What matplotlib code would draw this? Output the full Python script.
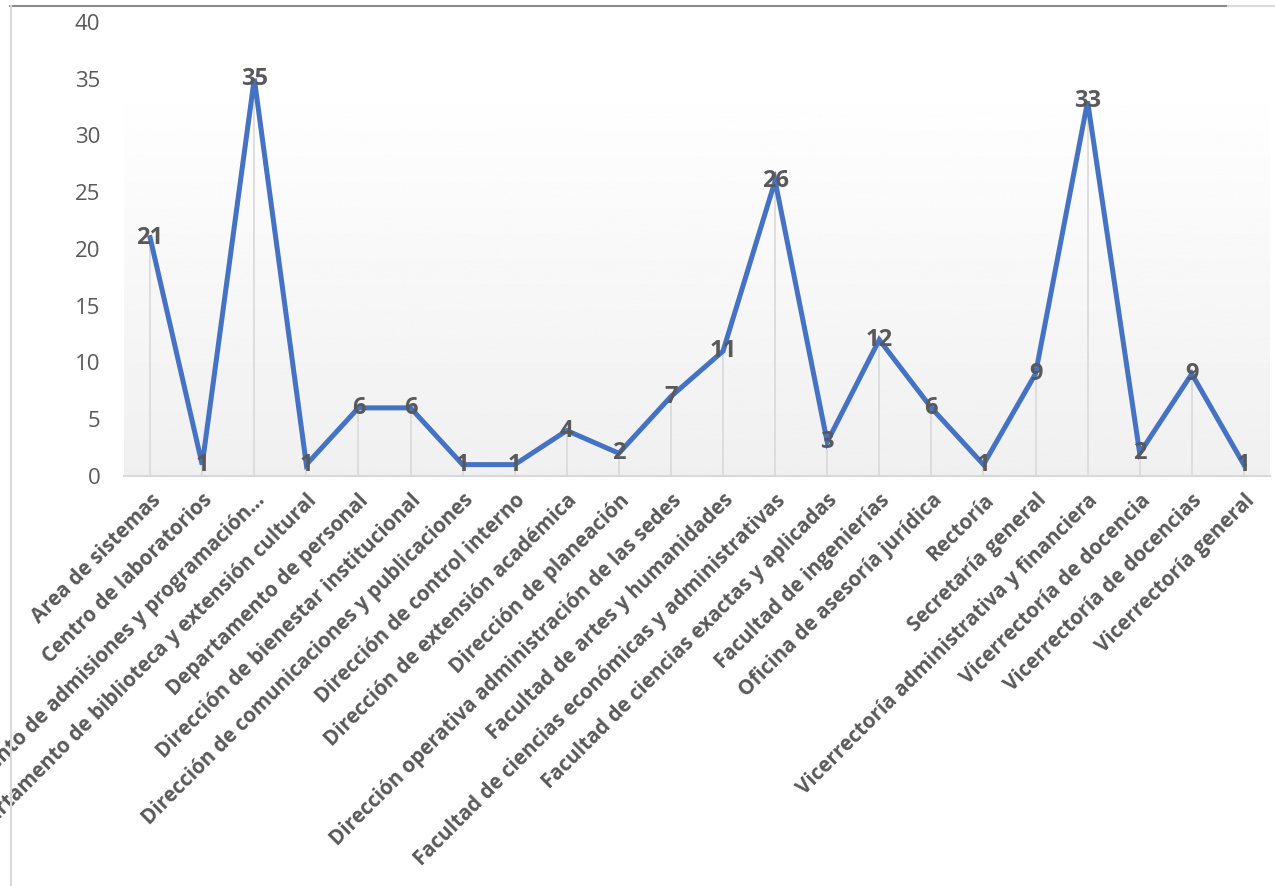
import numpy as np
import matplotlib
matplotlib.use("Agg")
import matplotlib.pyplot as plt
from matplotlib.lines import Line2D

plt.rcParams['font.family'] = ['Open Sans', 'DejaVu Sans']

categories = [
    "Area de sistemas",
    "Centro de laboratorios",
    "Departamento de admisiones y programación…",
    "Departamento de biblioteca y extensión cultural",
    "Departamento de personal",
    "Dirección de bienestar institucional",
    "Dirección de comunicaciones y publicaciones",
    "Dirección de control interno",
    "Dirección de extensión académica",
    "Dirección de planeación",
    "Dirección operativa administración de las sedes",
    "Facultad de artes y humanidades",
    "Facultad de ciencias económicas y administrativas",
    "Facultad de ciencias exactas y aplicadas",
    "Facultad de ingenierías",
    "Oficina de asesoría jurídica",
    "Rectoría",
    "Secretaría general",
    "Vicerrectoría administrativa y financiera",
    "Vicerrectoría de docencia",
    "Vicerrectoría de docencias",
    "Vicerrectoría general",
]
values = [21, 1, 35, 1, 6, 6, 1, 1, 4, 2, 7, 11, 26, 3, 12, 6, 1, 9, 33, 2, 9, 1]
yticks = [0, 5, 10, 15, 20, 25, 30, 35, 40]

TEXT = "#595959"
LINE = "#4472C4"


def main():
    fig = plt.figure(figsize=(12.75, 8.86), dpi=100)
    ax = fig.add_axes([0.0973, 0.4628, 0.8987, 0.5124])

    x = np.arange(len(values))

    # soft gradient background, white on top to light gray at the bottom
    grad = np.linspace(0.94, 1.0, 256).reshape(-1, 1)
    ax.imshow(grad, cmap="gray", vmin=0, vmax=1, aspect="auto",
              extent=[0, 1, 0, 0.875], transform=ax.transAxes,
              origin="lower", zorder=0)

    # drop lines
    ax.vlines(x, 0, values, color="#d9d9d9", lw=1.2, zorder=1)

    ax.plot(x, values, color=LINE, lw=3.6, zorder=3, solid_joinstyle="miter")

    for xi, v in zip(x, values):
        ax.text(xi, v, str(v), ha="center", va="center", fontsize=17,
                fontweight="bold", color=TEXT, zorder=4)

    ax.set_xlim(-0.5, len(values) - 0.5)
    ax.set_ylim(0, 40)
    ax.set_yticks(yticks)
    ax.set_yticklabels([str(t) for t in yticks], fontsize=16, color=TEXT)
    ax.set_xticks(x)
    ax.set_xticklabels(categories, rotation=45, ha="right",
                       rotation_mode="anchor", fontsize=14.8,
                       fontweight="bold", color=TEXT)
    ax.tick_params(axis="both", length=0)
    ax.tick_params(axis="y", pad=17)
    ax.tick_params(axis="x", pad=10)

    for s in ["top", "right", "left"]:
        ax.spines[s].set_visible(False)
    ax.spines["bottom"].set_color("#d9d9d9")
    ax.spines["bottom"].set_linewidth(1.5)
    ax.patch.set_alpha(0)

    # chart frame bits
    fig.add_artist(Line2D([10 / 1275, 1228 / 1275], [1 - 6 / 886] * 2,
                          color="#8c8c8c", lw=1.5))
    fig.add_artist(Line2D([1228 / 1275, 1.0], [1 - 6 / 886] * 2,
                          color="#d9d9d9", lw=1.5))
    fig.add_artist(Line2D([11 / 1275] * 2, [0, 1 - 6 / 886],
                          color="#d9d9d9", lw=1.5))

    fig.savefig("out.png", dpi=100, facecolor="white")


if __name__ == "__main__":
    main()
